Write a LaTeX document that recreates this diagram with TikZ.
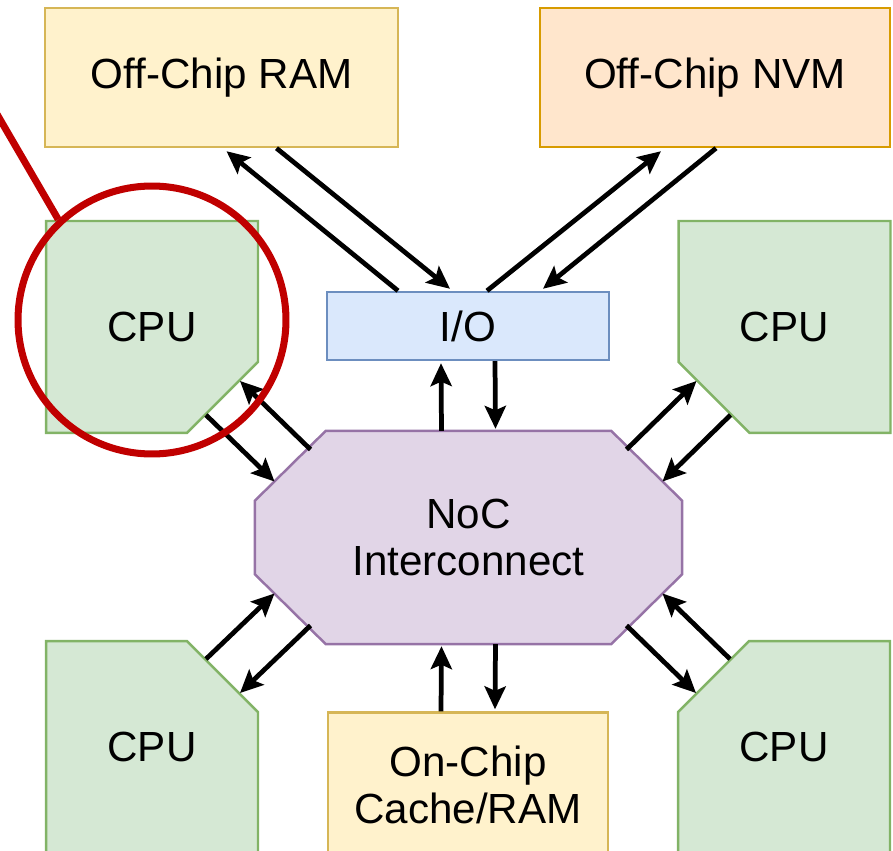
\documentclass[tikz,border=0pt]{standalone}
\usepackage{fontspec}
\setmainfont{Liberation Sans}
\usepackage{xcolor}
\usepackage{tikz}
\usetikzlibrary{shapes.misc, arrows.meta, calc, backgrounds}
\definecolor{cpufill}{HTML}{D5E8D4}
\definecolor{cpuline}{HTML}{82B366}
\definecolor{ramfill}{HTML}{FFF2CC}
\definecolor{ramline}{HTML}{D6B656}
\definecolor{nvmfill}{HTML}{FFE6CC}
\definecolor{nvmline}{HTML}{D79B00}
\definecolor{iofill}{HTML}{DAE8FC}
\definecolor{ioline}{HTML}{6C8EBF}
\definecolor{nocfill}{HTML}{E1D5E7}
\definecolor{nocline}{HTML}{9673A6}
\definecolor{mark}{HTML}{C00000}

\begin{document}
\begin{tikzpicture}[
    x=0.02cm, y=-0.02cm,
    % Setting up styles here keeps the drawing code clean
    box/.style = {rectangle, draw, line width=1.4pt, align=center, font=\fontsize{24}{27}\selectfont},
    cpu/.style = {box, chamfered rectangle, chamfered rectangle xsep=1.46cm, chamfered rectangle ysep=1.46cm,
                  fill=cpufill, draw=cpuline, minimum width=4.24cm, minimum height=4.24cm},
    arrow/.style = {line width=2.7pt, -{Stealth[length=13pt, width=12pt, inset=2.5pt]}}
]
    \useasboundingbox (0,0) rectangle (893,851);

    % 1. Off-chip memories on top, I/O in the middle
    \node (ram) [box, fill=ramfill, draw=ramline, minimum width=7.06cm, minimum height=2.78cm] at (221.5,77.5) {Off-Chip RAM};
    \node (nvm) [box, fill=nvmfill, draw=nvmline, minimum width=7cm, minimum height=2.78cm] at (715,77.5) {Off-Chip NVM};
    \node (io)  [box, fill=iofill, draw=ioline, minimum width=5.64cm, minimum height=1.36cm] at (468,326) {I/O};

    % 2. NoC in the centre, its octagon drawn behind from the node corners
    \node (noc) [box, draw=none, minimum width=8.5cm, minimum height=4.22cm] at (468.5,537.5) {NoC\\Interconnect};
    \begin{scope}[on background layer]
        \filldraw [fill=nocfill, draw=nocline, line width=1.4pt]
            ($(noc.north west)+(71,0)$) -- ($(noc.north east)+(-71,0)$) -- ($(noc.north east)+(0,70)$)
            -- ($(noc.south east)+(0,-70)$) -- ($(noc.south east)+(-71,0)$) -- ($(noc.south west)+(71,0)$)
            -- ($(noc.south west)+(0,-70)$) -- ($(noc.north west)+(0,70)$) -- cycle;
    \end{scope}

    % 3. Four CPUs, each cut towards the NoC
    \node (cpunw) [cpu, chamfered rectangle corners=south east] at (152,327) {CPU};
    \node (cpune) [cpu, chamfered rectangle corners=south west] at (784.5,327) {CPU};
    \node (cpusw) [cpu, chamfered rectangle corners=north east] at (152,747) {CPU};
    \node (cpuse) [cpu, chamfered rectangle corners=north west] at (784,747) {CPU};

    % On-chip memory below the NoC
    \node (cache) [box, fill=ramfill, draw=ramline, minimum width=5.6cm, minimum height=2.9cm] at (468,785) {On-Chip\\Cache/RAM};

    % 4. I/O to the off-chip memories
    \draw [arrow] ($(io.north)+(-70,0)$) -- ($(ram.south)+(5,3)$);
    \draw [arrow] ($(ram.south)+(55,0)$) -- ($(io.north)+(-18,-2)$);
    \draw [arrow] ($(io.north)+(19,0)$) -- ($(nvm.south)+(-54,3)$);
    \draw [arrow] ($(nvm.south)+(1,0)$) -- ($(io.north)+(75,-2)$);

    % 5. NoC to I/O and to the on-chip memory
    \draw [arrow] ($(noc.north)+(-27,0)$) -- ($(io.south)+(-27,2)$);
    \draw [arrow] ($(io.south)+(27,0)$) -- ($(noc.north)+(27,-2)$);
    \draw [arrow] ($(cache.north)+(-27,0)$) -- ($(noc.south)+(-27,2)$);
    \draw [arrow] ($(noc.south)+(27,0)$) -- ($(cache.north)+(27,-2)$);

    % 6. NoC to the CPUs, one pair per chamfer
    \draw [arrow] ($(noc.center)+(-158,-88)$) -- ($(cpunw.center)+(88,54)$);
    \draw [arrow] ($(cpunw.center)+(54,88)$) -- ($(noc.center)+(-194,-56)$);
    \draw [arrow] ($(noc.center)+(158,-88)$) -- ($(cpune.center)+(-88,54)$);
    \draw [arrow] ($(cpune.center)+(-54,88)$) -- ($(noc.center)+(194,-56)$);
    \draw [arrow] ($(cpusw.center)+(54,-88)$) -- ($(noc.center)+(-194,56)$);
    \draw [arrow] ($(noc.center)+(-158,88)$) -- ($(cpusw.center)+(88,-54)$);
    \draw [arrow] ($(noc.center)+(158,88)$) -- ($(cpuse.center)+(-88,-54)$);
    \draw [arrow] ($(cpuse.center)+(-54,-88)$) -- ($(noc.center)+(194,56)$);

    % 7. Red highlight round the top-left CPU
    \node (focus) [circle, draw=mark, line width=4pt, minimum size=5.36cm] at (152,320) {};
    \draw [draw=mark, line width=4pt] (focus.133.5) -- ++(-64,-110);

\end{tikzpicture}
\end{document}
